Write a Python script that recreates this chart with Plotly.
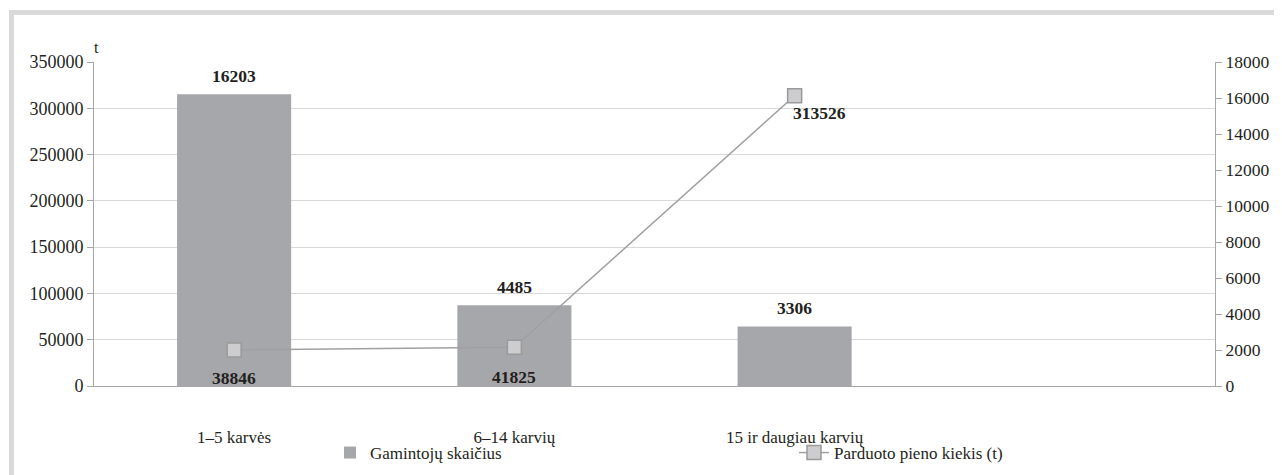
import plotly.graph_objects as go

# ---- data ----
categories = ["1–5 karvės", "6–14 karvių", "15 ir daugiau karvių"]
producers = [16203, 4485, 3306]          # Gamintojų skaičius (right axis)
milk_sold = [38846, 41825, 313526]       # Parduoto pieno kiekis (t) (left axis)
bar_name = "Gamintojų skaičius"
line_name = "Parduoto pieno kiekis (t)"

# ---- style ----
FONT = "'Liberation Serif', 'Times New Roman', Times, serif"
TXT = "#231f20"
BAR = "#a6a7aa"
LINE = "#a0a0a0"
GRID = "#d9d9d9"
AXIS = "#a6a6a6"
OFF = 8  # page body margin
W, H = 1282, 475
ML, MR, MT, MB = 86, 75, 54, 97
PW, PH = W - ML - MR, H - MT - MB
n_slots = 4

xs = list(range(len(categories)))

fig = go.Figure()
fig.add_trace(go.Bar(
    x=xs, y=producers, name=bar_name, yaxis="y",
    marker=dict(color=BAR, line=dict(width=0)), width=0.407,
    legend="legend",
))
fig.add_trace(go.Scatter(
    x=xs, y=milk_sold, name=line_name, yaxis="y2", mode="lines+markers",
    line=dict(color=LINE, width=1.5),
    marker=dict(symbol="square", size=14, color="#cdcdcf",
                line=dict(color="#9a9a9a", width=1.5)),
    legend="legend2",
))

annotations = []
for x, v in zip(xs, producers):
    annotations.append(dict(x=x, y=v, xref="x", yref="y", text=f"<b>{v}</b>",
                            showarrow=False, yanchor="middle", yshift=18,
                            font=dict(family=FONT, size=17.5, color=TXT)))
line_offsets = [(0, -28), (0, -30), (25, -17)]
for x, v, (dx, dy) in zip(xs, milk_sold, line_offsets):
    annotations.append(dict(x=x, y=v, xref="x", yref="y2", text=f"<b>{v}</b>",
                            showarrow=False, yanchor="middle", xshift=dx, yshift=dy,
                            font=dict(family=FONT, size=17.5, color=TXT)))
annotations.append(dict(x=0, y=1, xref="paper", yref="paper", text="t",
                        showarrow=False, xanchor="left", yanchor="middle",
                        xshift=-2, yshift=15,
                        font=dict(family=FONT, size=16, color=TXT)))

def px_x(p):
    return (p - OFF - ML) / PW

def px_y(p):
    return (H - MB - (p - OFF)) / PH

tf = dict(family=FONT, size=17, color=TXT)
tf_left = dict(family=FONT, size=18, color=TXT)
tf_right = dict(family=FONT, size=17.5, color=TXT)
fig.update_layout(
    width=W, height=H,
    margin=dict(l=ML, r=MR, t=MT, b=MB, autoexpand=False),
    paper_bgcolor="white", plot_bgcolor="white",
    font=tf,
    xaxis=dict(range=[-0.5, n_slots - 0.5], tickvals=xs, ticktext=categories,
               showline=True, linecolor=AXIS, linewidth=1, ticks="",
               showgrid=False, zeroline=False, ticklabelstandoff=36,
               tickfont=tf),
    yaxis=dict(side="right", range=[0, 18000], dtick=2000, ticks="outside",
               ticklen=6, tickcolor=AXIS, showline=True, linecolor=AXIS,
               showgrid=False, zeroline=False, tickformat="d", tickfont=tf_right),
    yaxis2=dict(side="left", overlaying="y", range=[0, 350000], dtick=50000,
                ticks="outside", ticklen=6, tickcolor=AXIS, showline=True,
                linecolor=AXIS, showgrid=True, gridcolor=GRID, gridwidth=1,
                zeroline=False, tickformat="d", tickfont=tf_left),
    legend=dict(x=px_x(330), y=px_y(453), xanchor="left", yanchor="middle",
                bgcolor="rgba(0,0,0,0)", font=tf),
    legend2=dict(x=px_x(794), y=px_y(453), xanchor="left", yanchor="middle",
                 bgcolor="rgba(0,0,0,0)", font=tf),
    showlegend=True,
    annotations=annotations,
    shapes=[dict(type="rect", xref="paper", yref="paper",
                 x0=px_x(11.5), x1=px_x(1310), y0=px_y(520), y1=px_y(12.5),
                 line=dict(color=GRID, width=5), fillcolor="rgba(0,0,0,0)",
                 layer="below")],
)

fig.write_html("out.html")
